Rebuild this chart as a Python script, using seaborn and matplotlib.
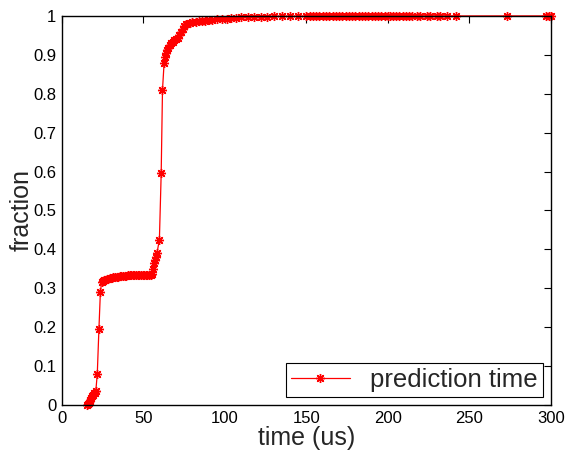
import pandas as pd
import matplotlib
matplotlib.use("Agg")
import matplotlib.pyplot as plt
import seaborn as sns

# CDF of prediction time
time_us = [
    15.5, 16.0, 16.5, 17.0, 17.5, 18.0, 18.5, 19.0, 19.5, 20.0, 20.8,
    21.7, 22.7, 23.6, 24.3,
    25.0, 25.8, 26.5, 27.5, 28.5, 29.5, 30.5, 31.5, 32.5, 33.5, 34.5,
    35.5, 36.5, 37.5, 38.5, 39.5, 40.5, 41.5, 42.5, 43.5, 44.5, 45.5,
    46.5, 47.5, 48.5, 49.5, 50.5, 51.5, 52.5, 53.5, 54.5,
    55.0, 55.6, 56.3, 56.8, 57.5, 58.3, 59.8, 60.9, 61.7, 62.7, 63.2,
    63.8, 64.5, 65.2, 66.0, 67.0, 68.0, 69.0, 70.0, 71.0, 72.0, 73.0,
    74.0, 75.0, 76.0, 77.0, 78.5, 80.0,
    82, 84, 86, 88, 90, 92, 95, 98, 101, 104, 107, 110, 114, 118, 122,
    126, 130, 135, 140, 145, 150, 152, 154, 156, 158, 160, 162, 164,
    166, 168, 170, 172, 174, 176, 178, 180, 182, 184, 186, 188, 190,
    192, 194, 196, 198, 200, 201, 203, 205, 207, 209, 211, 213, 215,
    218, 219.5, 224, 225.5, 230, 232, 236, 241.7, 272.8, 297, 298.5, 300,
]
fraction = [
    0.000, 0.002, 0.005, 0.010, 0.014, 0.018, 0.022, 0.026, 0.030, 0.032, 0.036,
    0.080, 0.195, 0.290, 0.315,
    0.318, 0.320, 0.322, 0.323, 0.325, 0.326, 0.327, 0.328, 0.329, 0.329, 0.330,
    0.331, 0.331, 0.332, 0.332, 0.332, 0.333, 0.333, 0.333, 0.333, 0.333, 0.333,
    0.334, 0.334, 0.334, 0.334, 0.334, 0.334, 0.334, 0.334, 0.334,
    0.336, 0.350, 0.365, 0.372, 0.380, 0.390, 0.425, 0.595, 0.810, 0.880, 0.895,
    0.905, 0.912, 0.918, 0.924, 0.930, 0.934, 0.937, 0.940, 0.944, 0.950, 0.958,
    0.966, 0.974, 0.978, 0.980, 0.982, 0.984,
    0.985, 0.986, 0.987, 0.988, 0.989, 0.990, 0.991, 0.992, 0.993, 0.994, 0.995, 0.996, 0.997, 0.997, 0.998,
    0.998, 0.999, 0.999, 0.999, 0.999, 0.9992, 0.9993, 0.9993, 0.9994, 0.9994, 0.9995, 0.9995, 0.9995,
    0.9996, 0.9996, 0.9996, 0.9997, 0.9997, 0.9997, 0.9997, 0.9998, 0.9998, 0.9998, 0.9998, 0.9998, 0.9998,
    0.9999, 0.9999, 0.9999, 0.9999, 0.9999, 0.9999, 0.9999, 0.9999, 0.9999, 0.9999, 0.9999, 0.9999, 0.9999,
    0.9999, 1.0, 1.0, 1.0, 1.0, 1.0, 1.0, 1.0, 1.0, 1.0, 1.0, 1.0,
]
x_ticks = [0, 50, 100, 150, 200, 250, 300]
y_ticks = [0, 0.1, 0.2, 0.3, 0.4, 0.5, 0.6, 0.7, 0.8, 0.9, 1]
y_tick_labels = ["0", "0.1", "0.2", "0.3", "0.4", "0.5", "0.6", "0.7", "0.8", "0.9", "1"]

df = pd.DataFrame({"time": time_us, "fraction": fraction})

sns.set_style("white")
plt.rcParams["font.family"] = ["Liberation Sans", "DejaVu Sans"]

fig = plt.figure(figsize=(5.68, 4.54), dpi=100)
ax = fig.add_axes([0.109, 0.108, 0.861, 0.857])

sns.lineplot(data=df, x="time", y="fraction", ax=ax, color="red",
             estimator=None, sort=False, linewidth=0.9,
             marker=(8, 2, 0), markersize=6.5, markeredgecolor="red",
             markeredgewidth=1.0, label="prediction time")
for ln in ax.lines:
    ln.set_clip_on(False)

ax.set_xlim(0, 300)
ax.set_ylim(0, 1)
ax.set_xticks(x_ticks)
ax.set_xticklabels([str(t) for t in x_ticks])
ax.set_yticks(y_ticks)
ax.set_yticklabels(y_tick_labels)
ax.tick_params(direction="in", length=5, width=0.8, top=True, right=True,
               labelsize=12, color="black", labelcolor="black", pad=4)
for s in ax.spines.values():
    s.set_color("black")
    s.set_linewidth(1.0)

ax.set_xlabel("time (us)", fontsize=18, labelpad=0)
ax.set_ylabel("fraction", fontsize=18, labelpad=0)

leg = ax.legend(loc="lower right", fontsize=18.5, frameon=True, fancybox=False,
                borderaxespad=0.3, handlelength=2.3, handletextpad=0.8,
                borderpad=0.2, framealpha=1)
leg.get_frame().set_edgecolor("black")
leg.get_frame().set_linewidth(0.8)

fig.savefig("out.png", dpi=100)
